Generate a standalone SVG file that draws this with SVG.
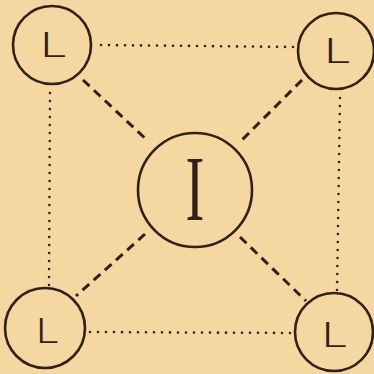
<svg xmlns="http://www.w3.org/2000/svg" width="374" height="374" viewBox="0 0 374 374">
<style>
.node{fill:none;stroke:#33201a;stroke-width:2.6}
.lbl{font-family:"Noto Sans","Liberation Sans",sans-serif;font-weight:300;font-size:34px;fill:#33201a;text-anchor:middle}
.big{font-family:"Liberation Serif","Times New Roman",serif;font-size:94px;fill:#33201a;text-anchor:middle}
.dot{stroke:#33201a;stroke-width:2.6;stroke-linecap:round;stroke-dasharray:0 8;fill:none}
.dash{stroke:#33201a;stroke-width:3;stroke-dasharray:9 6;fill:none}
</style>
<rect width="374" height="374" fill="#f4d7a1"/>
<g id="connectors">
<line class="dot" x1="101" y1="45" x2="296" y2="47"/>
<line class="dot" x1="50" y1="93" x2="49" y2="286"/>
<line class="dot" x1="340" y1="98" x2="337" y2="292"/>
<line class="dot" x1="90" y1="332" x2="294" y2="333"/>
<line class="dash" x1="83" y1="80" x2="148" y2="141"/>
<line class="dash" x1="302" y1="80" x2="239" y2="143"/>
<line class="dash" x1="145" y1="234" x2="76" y2="296"/>
<line class="dash" x1="240" y1="237" x2="306" y2="301"/>
</g>
<g id="n-tl"><circle class="node" cx="52" cy="45" r="39"/><text class="lbl" transform="translate(53 57) scale(1.5 1)">L</text></g>
<g id="n-tr"><circle class="node" cx="336" cy="51" r="38"/><text class="lbl" transform="translate(337 63) scale(1.5 1)">L</text></g>
<g id="n-bl"><circle class="node" cx="45" cy="328" r="40"/><text class="lbl" transform="translate(47 343) scale(1.3 1)">L</text></g>
<g id="n-br"><circle class="node" cx="334" cy="332" r="39"/><text class="lbl" transform="translate(334 347) scale(1.45 1)">L</text></g>
<g id="n-center"><circle class="node" cx="195" cy="190" r="57"/><text class="big" transform="translate(195 220) scale(0.6 1)">I</text></g>
</svg>
